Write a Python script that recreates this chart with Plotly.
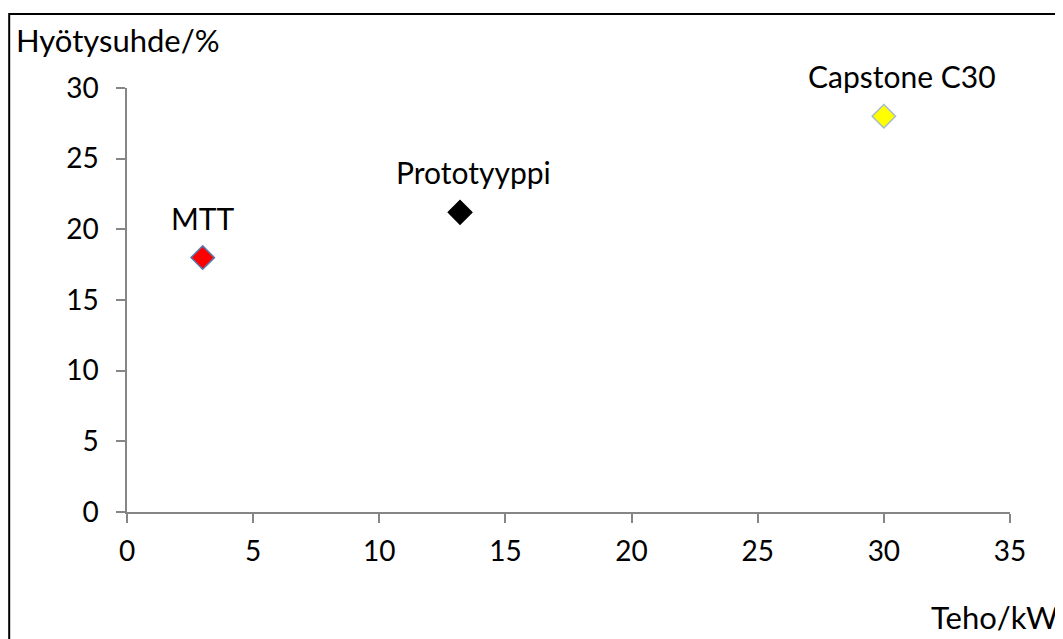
import plotly.graph_objects as go

names = ["MTT", "Prototyyppi", "Capstone C30"]
power_kw = [3.0, 13.2, 30.0]
efficiency = [18.0, 21.2, 28.0]
fill_colors = ["#ff0000", "#000000", "#ffff00"]
edge_colors = ["#5579b0", "#000000", "#a7bccb"]
label_dx = [0, 13, 18]

x_ticks = [0, 5, 10, 15, 20, 25, 30, 35]
y_ticks = [0, 5, 10, 15, 20, 25, 30]

FONT = "Lato"
OFF = 8  # page body offset

L, T = 127 - OFF, 88 - OFF
PW, PH = 883, 424

fig = go.Figure()
for n, xv, yv, fc, ec in zip(names, power_kw, efficiency, fill_colors, edge_colors):
    fig.add_trace(go.Scatter(
        x=[xv], y=[yv], mode="markers", name=n, showlegend=False,
        marker=dict(symbol="diamond", size=18, color=fc, line=dict(color=ec, width=1.5)),
        cliponaxis=False,
    ))

for n, xv, yv, dx in zip(names, power_kw, efficiency, label_dx):
    fig.add_annotation(x=xv, y=yv, text=n, showarrow=False, xshift=dx, yshift=40,
                       font=dict(family=FONT, size=30, color="#000000"))

axis_common = dict(
    showgrid=False, zeroline=False, showline=True, linecolor="#868686", linewidth=1.5,
    ticks="outside", ticklen=9, tickcolor="#868686", tickwidth=1.5,
    tickfont=dict(family=FONT, size=28, color="#000000"),
)
fig.update_xaxes(range=[0, 35], tickvals=x_ticks, ticktext=[str(v) for v in x_ticks],
                 ticklabelstandoff=5, **axis_common)
fig.update_yaxes(range=[0, 30], tickvals=y_ticks, ticktext=[str(v) for v in y_ticks],
                 ticklabelstandoff=12, **axis_common)

fig.add_annotation(xref="paper", yref="paper", x=(14 - 127) / PW, y=(512 - 40) / PH,
                   xanchor="left", yanchor="middle", text="Hyötysuhde/%", showarrow=False,
                   font=dict(family=FONT, size=31, color="#000000"))
fig.add_annotation(xref="paper", yref="paper", x=(1060 - 127) / PW, y=(512 - 617) / PH,
                   xanchor="right", yanchor="middle", text="Teho/kW", showarrow=False,
                   font=dict(family=FONT, size=31, color="#000000"))

fig.add_shape(type="rect", xref="paper", yref="paper",
              x0=(1.2 - L) / PW, x1=1.2, y0=-0.5, y1=(512 - 14) / PH,
              line=dict(color="#000000", width=2), fillcolor="rgba(0,0,0,0)", layer="below")

fig.update_layout(
    width=1063, height=639,
    margin=dict(l=L, r=1063 - L - PW, t=T, b=639 - T - PH),
    paper_bgcolor="#ffffff", plot_bgcolor="#ffffff",
    font=dict(family=FONT),
)

fig.write_html("out.html")
